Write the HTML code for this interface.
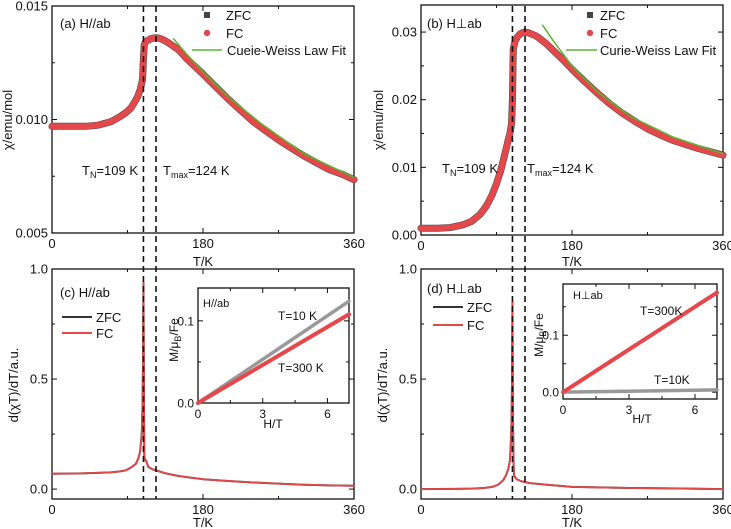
<!DOCTYPE html>
<html><head><meta charset="utf-8"><style>
body{margin:0;background:#fff;}
svg{display:block;font-family:"Liberation Sans",sans-serif;}
</style></head><body>
<svg id="fig" width="731" height="529" viewBox="0 0 731 529"></svg>
<script>
// ---- data ----
const tA=[0,20,40,55,70,80,88,94,99,102,105,107,108,109,110,112,115,118,121,124,128,132,136,140,145,150,155,160,170,180,195,210,225,240,255,270,285,300,315,330,345,360];
const chiA=[0.0097,0.0097,0.0097,0.00975,0.0099,0.0101,0.0103,0.0105,0.0108,0.0110,0.0113,0.0116,0.0118,0.0127,0.0133,0.01345,0.0135,0.01356,0.01359,0.0136,0.01358,0.01352,0.01344,0.01335,0.01322,0.0131,0.01291,0.0127,0.01235,0.0120,0.01145,0.0109,0.0104,0.0099,0.0095,0.0091,0.00875,0.0084,0.0081,0.0078,0.0076,0.00735];
const tCWA=[145,160,180,210,250,300,360];
const cwA=[0.01355,0.0129,0.0121,0.0110,0.0098,0.0085,0.00745];
const tB=[0,20,35,50,60,70,78,85,90,95,99,102,104,106,107,108,109,110,112,115,118,121,124,128,132,136,140,145,150,160,170,180,195,210,225,240,255,270,285,300,330,360];
const chiB=[0.0010,0.0010,0.0011,0.0015,0.0020,0.0030,0.0043,0.0060,0.0076,0.0095,0.0115,0.0130,0.0141,0.0150,0.0157,0.0165,0.0200,0.0275,0.0286,0.0293,0.0297,0.0299,0.0300,0.0299,0.0297,0.0295,0.0292,0.0287,0.0282,0.0270,0.0258,0.0245,0.0227,0.0210,0.0194,0.0180,0.0168,0.0157,0.0148,0.0140,0.0128,0.0118];
const tCWB=[145,160,180,210,250,300,360];
const cwB=[0.0310,0.0283,0.0250,0.0212,0.0175,0.0145,0.0120];
const tC=[0,30,50,70,80,88,95,100,103,105,107,108,108.5,109,109.5,110,111,112,115,120,124,135,150,165,180,210,240,270,300,330,360];
const dC=[0.07,0.071,0.073,0.076,0.08,0.085,0.10,0.115,0.14,0.17,0.25,0.4,0.6,0.94,0.5,0.15,0.13,0.13,0.10,0.09,0.085,0.072,0.06,0.052,0.045,0.037,0.03,0.025,0.02,0.017,0.015];
const tD=[0,40,60,75,85,92,98,101,104,106,107,108,108.5,109,109.7,110.5,111,114,120,130,150,180,220,250,300,360];
const dD=[0.0,0.001,0.002,0.005,0.01,0.02,0.04,0.06,0.09,0.13,0.2,0.32,0.5,0.85,0.3,0.1,0.06,0.045,0.035,0.027,0.02,0.01,0.007,0.005,0.003,0.0];
const hIn=[0,7];
const mC10=[0,0.124], mC300=[0,0.108];
const mD300=[0,0.175], mD10=[0,0.004];

const NS='http://www.w3.org/2000/svg';
const svg=document.getElementById('fig');
function mk(tag,attrs,parent){const e=document.createElementNS(NS,tag);for(const k in attrs)e.setAttribute(k,attrs[k]);(parent||svg).appendChild(e);return e;}
function txt(s,x,y,size,anchor,parent){const e=mk('text',{x:x,y:y,'font-size':size,'text-anchor':anchor||'start',fill:'#111'},parent);e.innerHTML=s;return e;}
function scale(d0,d1,r0,r1){return v=>r0+(v-d0)/(d1-d0)*(r1-r0);}

function axes(name,x0,x1,y0,y1,xd,yd,xt,xminor,yt,ylab,yminor,fs){
  const g=mk('g',{});
  
  
  const X=scale(xd[0],xd[1],x0,x1),Y=scale(yd[0],yd[1],y1,y0);
  mk('rect',{x:x0,y:y0,width:x1-x0,height:y1-y0,fill:'none',stroke:'#111','stroke-width':1.3},g);
  xt.forEach(v=>{const x=X(v);mk('line',{x1:x,x2:x,y1:y1,y2:y1-5,stroke:'#111'},g);mk('line',{x1:x,x2:x,y1:y0,y2:y0+5,stroke:'#111'},g);txt(String(v),x,y1+15,fs,'middle',g);});
  xminor.forEach(v=>{const x=X(v);mk('line',{x1:x,x2:x,y1:y1,y2:y1-3,stroke:'#111'},g);mk('line',{x1:x,x2:x,y1:y0,y2:y0+3,stroke:'#111'},g);});
  yt.forEach((v,i)=>{const y=Y(v);mk('line',{x1:x0,x2:x0+5,y1:y,y2:y,stroke:'#111'},g);mk('line',{x1:x1,x2:x1-5,y1:y,y2:y,stroke:'#111'},g);txt(ylab[i],x0-4,y+4.5,fs,'end',g);});
  yminor.forEach(v=>{const y=Y(v);mk('line',{x1:x0,x2:x0+3,y1:y,y2:y,stroke:'#111'},g);mk('line',{x1:x1,x2:x1-3,y1:y,y2:y,stroke:'#111'},g);});
  return {X,Y,g};
}
function line(ax,xs,ys,color,w,name){
  const p=mk('polyline',{points:xs.map((x,i)=>ax.X(x)+','+ax.Y(ys[i])).join(' '),fill:'none',stroke:color,'stroke-width':w,'stroke-linejoin':'round','stroke-linecap':'round'},ax.g);
  
  
  return p;
}
const RED='#e5484a',GRN='#5ab52e';

// Panel a
const A=axes('panel-a',52,354,6,233,[0,360],[0.005,0.015],[0,180,360],[90,270],[0.005,0.010,0.015],['0.005','0.010','0.015'],[0.0075,0.0125],13);
line(A,tA,chiA,'#444',7,'zfc-curve-a');
line(A,tA,chiA,RED,6,'fc-curve-a');
line(A,tCWA,cwA,GRN,1.5,'cw-fit-a');
// Panel b
const B=axes('panel-b',421,723,5,235,[0,360],[0,0.034],[0,180,360],[90,270],[0,0.01,0.02,0.03],['0.00','0.01','0.02','0.03'],[0.005,0.015,0.025],13);
line(B,tB,chiB,'#444',7,'zfc-curve-b');
line(B,tB,chiB,RED,6,'fc-curve-b');
line(B,tCWB,cwB,GRN,1.5,'cw-fit-b');
// Panel c
const C=axes('panel-c',52,354,269,499,[0,360],[-0.045,1.0],[0,180,360],[90,270],[0,0.5,1.0],['0.0','0.5','1.0'],[0.25,0.75],13);
line(C,tC,dC,'#333',2,'zfc-deriv-c');
line(C,tC,dC,RED,1.8,'fc-deriv-c');
// Panel d
const D=axes('panel-d',421,723,269,499,[0,360],[-0.045,1.0],[0,180,360],[90,270],[0,0.5,1.0],['0.0','0.5','1.0'],[0.25,0.75],13);
line(D,tD,dD,'#333',2,'zfc-deriv-d');
line(D,tD,dD,RED,1.8,'fc-deriv-d');

// dashed transition lines
[[A,109,'tn-line-left'],[A,124,'tmax-line-left'],[B,109,'tn-line-right'],[B,124,'tmax-line-right']].forEach(([p,t,n])=>{
  const l=mk('line',{x1:p.X(t),x2:p.X(t),y1:6,y2:499,stroke:'#111','stroke-width':1.6,'stroke-dasharray':'6,4'});
  
  
});

// Insets
const IC=axes('inset-c',198,349,288,403,[0,7],[0,0.14],[0,3,6],[1.5,4.5],[0,0.1],['0.0','0.1'],[0.05],12);
line(IC,hIn,mC10,'#999',3.5,'inset-c-10k');
line(IC,hIn,mC300,RED,4,'inset-c-300k');
const ID=axes('inset-d',563,717,284,399,[0,7],[-0.012,0.19],[0,3,6],[1.5,4.5],[0,0.1],['0.0','0.1'],[0.05,0.15],12);
line(ID,hIn,mD10,'#999',3.5,'inset-d-10k');
line(ID,hIn,mD300,RED,4,'inset-d-300k');

// Texts
txt('(a) H//ab',60,28,13);
txt('(b) H⊥ab',427,28,13);
txt('(c) H//ab',60,297,13);
txt('(d) H⊥ab',427,293,13);
txt('T/K',203,266,13,'middle');txt('T/K',572,266,13,'middle');
txt('T/K',203,527,13,'middle');txt('T/K',572,527,13,'middle');
function vtxt(s,x,y,size,name){const e=txt(s,x,y,size,'middle');e.setAttribute('transform','rotate(-90 '+x+' '+y+')');}
vtxt('χ/emu/mol',12,120,13,'y-axis-title-a');
vtxt('χ/emu/mol',383,120,13,'y-axis-title-b');
vtxt('d(χT)/dT/a.u.',18,385,13,'y-axis-title-c');
vtxt('d(χT)/dT/a.u.',387,385,13,'y-axis-title-d');
vtxt('M/μ<tspan font-size="9" dy="3">B</tspan><tspan dy="-3">/Fe</tspan>',178,340,12,'inset-c-y-title');
vtxt('M/μ<tspan font-size="9" dy="3">B</tspan><tspan dy="-3">/Fe</tspan>',543,335,12,'inset-d-y-title');
txt('H/T',273,428,12,'middle');txt('H/T',642,423,12,'middle');
txt('T<tspan font-size="9" dy="3">N</tspan><tspan dy="-3">=109 K</tspan>',82,175,13);
txt('T<tspan font-size="9" dy="3">max</tspan><tspan dy="-3">=124 K</tspan>',163,175,13);
txt('T<tspan font-size="9" dy="3">N</tspan><tspan dy="-3">=109 K</tspan>',442,173,13);
txt('T<tspan font-size="9" dy="3">max</tspan><tspan dy="-3">=124 K</tspan>',527,173,13);
txt('H//ab',203,307,11);txt('T=10 K',278,320,12);txt('T=300 K',278,372,12);
txt('H⊥ab',573,299,11);txt('T=300K',640,315,12);txt('T=10K',654,384,12);

// Legends
function legMarker(x,y,type,color){if(type==='sq')mk('rect',{x:x-3,y:y-3,width:6,height:6,fill:color});else mk('circle',{cx:x,cy:y,r:3.2,fill:color});}
legMarker(207,15,'sq','#444');txt('ZFC',226,20,13);
legMarker(207,33,'c',RED);txt('FC',226,38,13);
mk('line',{x1:192,x2:222,y1:50,y2:50,stroke:GRN,'stroke-width':1.5});txt('Cueie-Weiss Law Fit',227,55,13);
legMarker(590,15,'sq','#444');txt('ZFC',600,20,13);
legMarker(590,33,'c',RED);txt('FC',600,38,13);
mk('line',{x1:566,x2:597,y1:50,y2:50,stroke:GRN,'stroke-width':1.5});txt('Curie-Weiss Law Fit',600,55,13);
mk('line',{x1:62,x2:92,y1:317,y2:317,stroke:'#333','stroke-width':2});txt('ZFC',96,322,13);
mk('line',{x1:62,x2:92,y1:333,y2:333,stroke:RED,'stroke-width':2});txt('FC',96,338,13);
mk('line',{x1:433,x2:463,y1:307,y2:307,stroke:'#333','stroke-width':2});txt('ZFC',467,312,13);
mk('line',{x1:433,x2:463,y1:325,y2:325,stroke:RED,'stroke-width':2});txt('FC',467,330,13);
</script>
</body></html>
